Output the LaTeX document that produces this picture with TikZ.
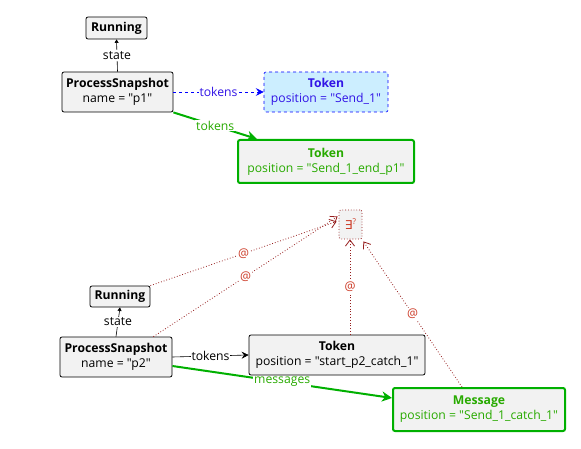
\documentclass[tikz,border=0pt]{standalone}
\usepackage{fontspec}
\setmainfont{Open Sans}[Ligatures=TeXOff]
\newfontfamily\djfont{DejaVu Sans}
\usetikzlibrary{arrows.meta}
\definecolor{boxfill}{RGB}{242,242,242}
\definecolor{tokblue}{RGB}{0,0,255}
\definecolor{tokbluetxt}{RGB}{50,20,230}
\definecolor{tokbluefill}{RGB}{204,238,255}
\definecolor{mygreen}{RGB}{0,176,0}
\definecolor{mygreentxt}{RGB}{40,170,0}
\definecolor{dotred}{RGB}{150,30,30}
\definecolor{atred}{RGB}{205,60,40}
\tikzset{
  x=1pt, y=-1pt,
  every node/.style={font=\fontsize{12.2}{15}\selectfont, inner sep=0pt},
  obj/.style={draw=black, fill=boxfill, rounded corners=2pt, line width=0.8pt, align=center},
  objblue/.style={draw=tokblue, fill=tokbluefill, rounded corners=2pt, line width=0.6pt, dashed, align=center, text=tokbluetxt},
  objgreen/.style={draw=mygreen, fill=boxfill, rounded corners=2pt, line width=2pt, align=center, text=mygreentxt},
  lbl/.style={fill=white, inner sep=1pt},
  blackarrow/.style={draw=black, line width=0.6pt, -{Stealth[length=7pt,width=7pt,inset=2.5pt]}},
  greenarrow/.style={draw=mygreen, line width=2pt, -{Stealth[length=10pt,width=10pt,inset=3pt]}},
  bluearrow/.style={draw=tokblue, line width=0.6pt, dashed, -{Stealth[length=8pt,width=8pt,inset=3pt]}},
  statearrow/.style={draw=black, line width=0.6pt, -{Triangle[length=3.5pt,width=4pt]}},
  existarrow/.style={draw=dotred, line width=0.8pt, dotted, -{Straight Barb[length=6pt,width=9pt]}},
}
\begin{document}
\begin{tikzpicture}
\useasboundingbox (0,0) rectangle (581,449);
% nodes
\node[obj, minimum width=61pt, minimum height=22pt] (run1) at (116.5,28) {\textbf{Running}};
\node[obj, minimum width=111pt, minimum height=40pt] (ps1) at (117.5,92) {\textbf{ProcessSnapshot}\\name = "p1"};
\node[objblue, minimum width=124pt, minimum height=40pt] (tok1) at (326,92) {\textbf{Token}\\position = "Send\_1"};
\node[objgreen, minimum width=176pt, minimum height=43pt] (tok2) at (326,161.5) {\textbf{Token}\\position = "Send\_1\_end\_p1"};

\node[draw=dotred, dotted, fill=boxfill, rounded corners=2pt, line width=0.8pt, minimum width=23pt, minimum height=29pt, text=atred] (ex) at (350.5,224.5) {{\djfont ∃}\raisebox{5pt}{\fontsize{8}{9}\selectfont ?}};

\node[obj, minimum width=60pt, minimum height=21pt] (run2) at (120,296.5) {\textbf{Running}};
\node[obj, minimum width=112pt, minimum height=40pt] (ps2) at (116,357) {\textbf{ProcessSnapshot}\\name = "p2"};
\node[obj, minimum width=176pt, minimum height=40pt] (tok3) at (337,355) {\textbf{Token}\\position = "start\_p2\_catch\_1"};
\node[objgreen, minimum width=172pt, minimum height=43pt] (msg) at (479,409.5) {\textbf{Message}\\position = "Send\_1\_catch\_1"};

% edges top
\draw[statearrow] (ps1.north) -- node[lbl]{state} (run1.south);
\draw[bluearrow] (ps1.east) -- node[lbl, text=tokbluetxt]{tokens} (tok1.west);
\draw[greenarrow] (ps1.south east) -- node[lbl, text=mygreentxt, pos=0.5]{tokens} ([xshift=20pt]tok2.north west);

% edges bottom
\draw[statearrow] (ps2.north) -- node[lbl]{state} (run2.south);
\draw[blackarrow] (ps2.east) -- node[lbl]{tokens} (tok3.west);
\draw[greenarrow] ([yshift=-9pt]ps2.east) -- node[lbl, text=mygreentxt, pos=0.5]{messages} ([yshift=11.5pt]msg.west);

\draw[existarrow] (run2.north east) -- node[lbl, text=atred]{@} ([xshift=-2pt,yshift=3pt]ex.west);
\draw[existarrow] ([xshift=-19pt]ps2.north east) -- node[lbl, text=atred]{@} ([xshift=-1pt,yshift=8pt]ex.west);
\draw[existarrow] ([xshift=13pt]tok3.north) -- node[lbl, text=atred]{@} ([xshift=-0.5pt]ex.south);
\draw[existarrow] ([xshift=-17pt]msg.north) -- node[lbl, text=atred]{@} ([xshift=1pt,yshift=-2pt]ex.south east);
\end{tikzpicture}
\end{document}
